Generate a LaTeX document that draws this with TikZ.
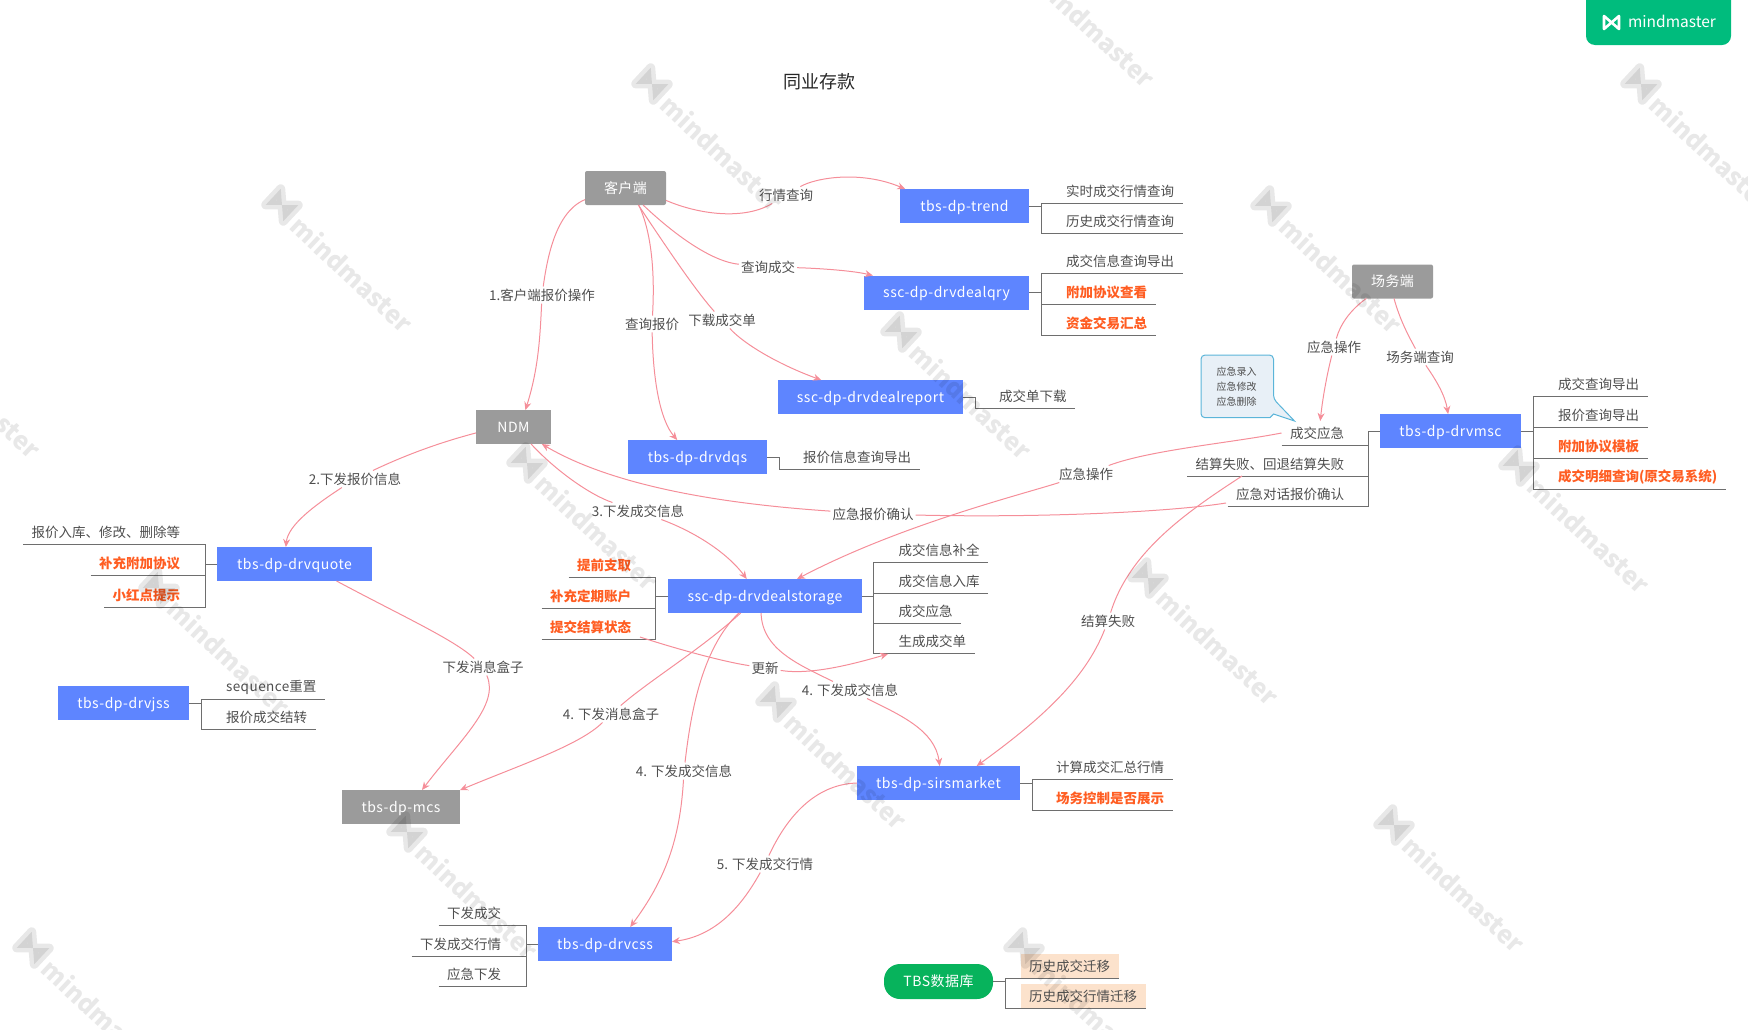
\documentclass[tikz,border=0pt]{standalone}
\usepackage{fontspec}
\usetikzlibrary{arrows.meta}
\setmainfont{Noto Sans CJK SC}
\newfontfamily\spaced[LetterSpace=3.5]{Noto Sans CJK SC}
\definecolor{boxblue}{HTML}{5E85FF}
\definecolor{boxgrey}{HTML}{9B9B9B}
\definecolor{dbgreen}{HTML}{07B35C}
\definecolor{badgegreen}{HTML}{00BC7D}
\definecolor{flowpink}{HTML}{F58E99}
\definecolor{hotorange}{HTML}{FF5D22}
\definecolor{peach}{HTML}{FCE2CC}
\definecolor{stemgrey}{HTML}{6E6E6E}
\definecolor{inkgrey}{HTML}{4E4E4E}
\definecolor{notefill}{HTML}{E8F0F7}
\definecolor{noteline}{HTML}{5BB5D9}

\begin{document}
\begin{tikzpicture}[x=1pt,y=-1pt,>={Stealth[length=8pt,width=7pt]},
                    font=\fontsize{13.5}{16}\selectfont,text=inkgrey]

  \tikzset{
    box/.style={minimum height=34pt,inner sep=0pt,outer sep=0pt,text=white,
                text height=11pt,text depth=1pt,font=\fontsize{14}{16}\spaced},
    bluebox/.style={box,fill=boxblue},
    greybox/.style={box,fill=boxgrey},
    roundgrey/.style={greybox,rounded corners=2pt},
    itemr/.style={anchor=south west,minimum height=24pt,inner xsep=8.5pt,inner ysep=0pt,outer sep=0pt},
    iteml/.style={itemr,anchor=south east},
    hot/.style={text=hotorange,font=\fontsize{13.5}{16}\selectfont\bfseries},
    tag/.style={inner sep=2pt},
    flow/.style={draw=flowpink,line width=1pt,->},
    stem/.style={draw=stemgrey,line width=0.9pt},
  }
  \useasboundingbox (0,0) rectangle (1748,1029);

  \node[font=\fontsize{18}{20}\selectfont,text=black!85] (title) at (819,82) {同业存款};

  % main boxes
  \node[roundgrey,minimum width=81pt] (client) at (625.5,188)   {客户端};
  \node[greybox,minimum width=75pt]   (ndm)    at (513.5,427)   {NDM};
  \node[roundgrey,minimum width=81pt] (desk)   at (1392.5,281.5) {场务端};
  \node[greybox,minimum width=118pt]  (mcs)    at (401,807)     {tbs-dp-mcs};
  \node[bluebox,minimum width=129pt]  (trend)  at (964.5,206)   {tbs-dp-trend};
  \node[bluebox,minimum width=165pt]  (qry)    at (946.5,292.5) {ssc-dp-drvdealqry};
  \node[bluebox,minimum width=185pt]  (report) at (870.5,397)   {ssc-dp-drvdealreport};
  \node[bluebox,minimum width=139pt]  (dqs)    at (697.5,457)   {tbs-dp-drvdqs};
  \node[bluebox,minimum width=141pt]  (msc)    at (1450.5,431)  {tbs-dp-drvmsc};
  \node[bluebox,minimum width=155pt]  (quote)  at (294.5,564)   {tbs-dp-drvquote};
  \node[bluebox,minimum width=194pt]  (store)  at (765,596)     {ssc-dp-drvdealstorage};
  \node[bluebox,minimum width=131pt]  (jss)    at (123.5,703)   {tbs-dp-drvjss};
  \node[bluebox,minimum width=134pt]  (css)    at (605,944)     {tbs-dp-drvcss};
  \node[bluebox,minimum width=163pt]  (sirs)   at (938.5,783)   {tbs-dp-sirsmarket};
  \node[box,fill=dbgreen,rounded corners=16pt,minimum width=109pt,minimum height=35pt] (tbsdb) at (938.5,981.5) {TBS数据库};

  % lists
  \node[itemr] (trendA) at (1057.5,203) {实时成交行情查询};
  \node[itemr] (trendB) at (1057.5,233.5) {历史成交行情查询};
  \node[itemr] (qryA) at (1057.5,273) {成交信息查询导出};
  \node[itemr,hot] (qryB) at (1057.5,304) {附加协议查看};
  \node[itemr,hot] (qryC) at (1057.5,335) {资金交易汇总};
  \node[itemr] (reportA) at (990.5,408) {成交单下载};
  \node[itemr] (dqsA) at (794.5,469) {报价信息查询导出};
  \node[itemr] (mscA) at (1549.5,396) {成交查询导出};
  \node[itemr] (mscB) at (1549.5,427) {报价查询导出};
  \node[itemr,hot] (mscC) at (1549.5,458) {附加协议模板};
  \node[itemr,hot] (mscD) at (1549.5,489) {成交明细查询(原交易系统)};
  \node[iteml] (emgA) at (1352.5,445) {成交应急};
  \node[iteml] (emgB) at (1352.5,476) {结算失败、回退结算失败};
  \node[iteml] (emgC) at (1352.5,506) {应急对话报价确认};
  \node[iteml] (quoteA) at (188.5,544) {报价入库、修改、删除等};
  \node[iteml,hot] (quoteB) at (188.5,575) {补充附加协议};
  \node[iteml,hot] (quoteC) at (188.5,607) {小红点提示};
  \node[iteml,hot] (storeA) at (639.5,577) {提前支取};
  \node[iteml,hot] (storeB) at (639.5,608) {补充定期账户};
  \node[iteml,hot] (storeC) at (639.5,639) {提交结算状态};
  \node[itemr] (storeD) at (890,562) {成交信息补全};
  \node[itemr] (storeE) at (890,593) {成交信息入库};
  \node[itemr] (storeF) at (890,623) {成交应急};
  \node[itemr] (storeG) at (890,653) {生成成交单};
  \node[itemr] (jssA) at (217.5,699) {{\spaced sequence}重置};
  \node[itemr] (jssB) at (217.5,729) {报价成交结转};
  \node[iteml] (cssA) at (509.5,925) {下发成交};
  \node[iteml] (cssB) at (509.5,956) {下发成交行情};
  \node[iteml] (cssC) at (509.5,986) {应急下发};
  \node[itemr] (sirsA) at (1047.5,779) {计算成交汇总行情};
  \node[itemr,hot] (sirsB) at (1047.5,810) {场务控制是否展示};
  \node[itemr,fill=peach] (tbsA) at (1020.5,978) {历史成交迁移};
  \node[itemr,fill=peach] (tbsB) at (1020.5,1008) {历史成交行情迁移};

  % list brackets
  \draw[stem] (trend.east) -- ++(12,0) coordinate (trendS);
  \foreach \i in {trendA,trendB} \draw[stem] (\i.south east) -| (trendS);
  \draw[stem] (qry.east) -- ++(12,0) coordinate (qryS);
  \foreach \i in {qryA,qryB,qryC} \draw[stem] (\i.south east) -| (qryS);
  \draw[stem] (report.east) -- ++(12,0) coordinate (reportS);
  \draw[stem] (reportA.south east) -| (reportS);
  \draw[stem] (dqs.east) -- ++(12,0) coordinate (dqsS);
  \draw[stem] (dqsA.south east) -| (dqsS);
  \draw[stem] (msc.east) -- ++(12,0) coordinate (mscS);
  \foreach \i in {mscA,mscB,mscC,mscD} \draw[stem] (\i.south east) -| (mscS);
  \draw[stem] (msc.west) -- ++(-12,0) coordinate (emgS);
  \foreach \i in {emgA,emgB,emgC} \draw[stem] (\i.south west) -| (emgS);
  \draw[stem] (quote.west) -- ++(-12,0) coordinate (quoteS);
  \foreach \i in {quoteA,quoteB,quoteC} \draw[stem] (\i.south west) -| (quoteS);
  \draw[stem] (store.west) -- ++(-13,0) coordinate (storeL);
  \foreach \i in {storeA,storeB,storeC} \draw[stem] (\i.south west) -| (storeL);
  \draw[stem] (store.east) -- ++(11,0) coordinate (storeR);
  \foreach \i in {storeD,storeE,storeF,storeG} \draw[stem] (\i.south east) -| (storeR);
  \draw[stem] (jss.east) -- ++(12,0) coordinate (jssS);
  \foreach \i in {jssA,jssB} \draw[stem] (\i.south east) -| (jssS);
  \draw[stem] (css.west) -- ++(-12,0) coordinate (cssS);
  \foreach \i in {cssA,cssB,cssC} \draw[stem] (\i.south west) -| (cssS);
  \draw[stem] (sirs.east) -- ++(12,0) coordinate (sirsS);
  \foreach \i in {sirsA,sirsB} \draw[stem] (\i.south east) -| (sirsS);
  \draw[stem] (tbsdb.east) -- ++(12,0) coordinate (tbsS);
  \foreach \i in {tbsA,tbsB} \draw[stem] (\i.south east) -| (tbsS);

  % labels on the flows
  \node[tag] (tagNdm)    at (542,295)  {1.客户端报价操作};
  \node[tag] (tagMarket) at (786,195)  {行情查询};
  \node[tag] (tagDeal)   at (768,267)  {查询成交};
  \node[tag] (tagDown)   at (722,320)  {下载成交单};
  \node[tag] (tagQuote)  at (652,324)  {查询报价};
  \node[tag] (tagTwo)    at (355,479)  {2.下发报价信息};
  \node[tag] (tagThree)  at (638,511)  {3.下发成交信息};
  \node[tag] (tagConf)   at (873,514)  {应急报价确认};
  \node[tag] (tagEmg)    at (1086,474) {应急操作};
  \node[tag] (tagFail)   at (1108,621) {结算失败};
  \node[tag] (tagBox)    at (483,667)  {下发消息盒子};
  \node[tag] (tagBoxF)   at (611,714)  {4. 下发消息盒子};
  \node[tag] (tagInfoL)  at (684,771)  {4. 下发成交信息};
  \node[tag] (tagInfoR)  at (850,690)  {4. 下发成交信息};
  \node[tag] (tagUpd)    at (765,668)  {更新};
  \node[tag] (tagFive)   at (765,864)  {5. 下发成交行情};
  \node[tag] (tagDesk)   at (1334,347) {应急操作};
  \node[tag] (tagDeskQ)  at (1420,357) {场务端查询};

  \coordinate (failEnd) at (1242,476);
  \coordinate (confEnd) at (1226,503);
  \coordinate (updEnd)  at (640,637);
  \coordinate (updTip)  at (888,654);

  % flows
  \draw[flow] (client.196) .. controls (555,212) and (547,260) .. (tagNdm)
              .. controls (540,340) and (538,370) .. (ndm.55);
  \draw[flow] (client.-17) .. controls (700,215) and (745,220) .. (tagMarket)
              .. controls (815,178) and (860,170) .. (trend.164);
  \draw[flow] (client.-44) .. controls (680,240) and (715,262) .. (tagDeal)
              .. controls (810,268) and (850,270) .. (qry.167);
  \draw[flow] (client.-53) .. controls (665,245) and (695,290) .. (tagDown)
              .. controls (745,345) and (780,365) .. (report.161);
  \draw[flow] (client.-52) .. controls (655,240) and (654,290) .. (tagQuote)
              .. controls (653,380) and (660,420) .. (dqs.140);
  \draw[flow] (ndm.189) .. controls (430,445) and (395,460) .. (tagTwo)
              .. controls (315,505) and (288,525) .. (quote.117);
  \draw[flow] (ndm.-44) .. controls (555,470) and (590,495) .. (tagThree)
              .. controls (690,530) and (725,550) .. (store.137);
  \draw[flow] (confEnd) .. controls (1170,512) and (1040,518) .. (tagConf)
              .. controls (740,505) and (620,490) .. (ndm.-31);
  \draw[flow] (emgA.west) .. controls (1230,443) and (1150,450) .. (tagEmg)
              .. controls (1020,495) and (900,525) .. (store.28);
  \draw[flow] (failEnd) .. controls (1190,510) and (1130,550) .. (tagFail)
              .. controls (1085,680) and (1040,720) .. (sirs.24);
  \draw[flow] (quote.-22) .. controls (400,615) and (455,640) .. (tagBox)
              .. controls (500,705) and (460,740) .. (mcs.39);
  \draw[flow] (store.-145) .. controls (700,650) and (650,680) .. (tagBoxF)
              .. controls (580,745) and (520,765) .. (mcs.16);
  \draw[flow] (store.-147) .. controls (700,650) and (690,720) .. (tagInfoL)
              .. controls (680,840) and (665,880) .. (css.34);
  \draw[flow] (store.-103) .. controls (762,650) and (800,665) .. (tagInfoR)
              .. controls (900,715) and (935,730) .. (sirs.86);
  \draw[flow] (updEnd) .. controls (680,650) and (725,662) .. (tagUpd)
              .. controls (810,675) and (850,665) .. (updTip);
  \draw[flow] (sirs.180) .. controls (820,784) and (790,810) .. (tagFive)
              .. controls (745,900) and (720,935) .. (css.2);
  \draw[flow] (desk.-147) .. controls (1350,310) and (1340,325) .. (tagDesk)
              .. controls (1328,370) and (1323,395) .. (emgA.75);
  \draw[flow] (desk.-85) .. controls (1400,320) and (1408,335) .. (tagDeskQ)
              .. controls (1436,380) and (1445,395) .. (msc.98);

  % note
  \draw[draw=noteline,fill=notefill,line width=1pt,rounded corners=4pt]
    (1201,355) -- (1273.5,355) -- (1273.5,399) [sharp corners] -- (1294.5,421)
    -- (1273.5,414) -- (1270,417.7) [rounded corners=4pt] -- (1201,417.7) -- cycle;
  \node[font=\fontsize{10}{15}\selectfont,align=center] (note) at (1236.5,387) {应急录入\\应急修改\\应急删除};

  % badge
  \fill[badgegreen] (1586,0) [rounded corners=9pt] -- (1586,45) -- (1731,45) [sharp corners] -- (1731,0) -- cycle;
  \draw[white,line width=2.6pt,line join=round] (1604,16) -- (1604,29) -- (1619,16) -- (1619,29) -- cycle;
  \node[text=white,font=\fontsize{15.5}{20}\selectfont,inner sep=0pt] (brand) at (1672,21) {mindmaster};

  % watermark
  \begin{scope}[opacity=0.09]
    \clip (0,0) rectangle (1748,1029);
    \foreach \wx/\wy in {652/84,282/205,1271/206,1641/84,901/332,527/463,1148/578,776/702,
                         1519/466,159/588,1394/825,407/832,1024/948,33/948,1024/-40,-90/331}{
      \draw[black,fill=black,line width=9pt,line join=round,rotate around={-43:(\wx,\wy)}]
        (\wx-12,\wy-11) -- (\wx-12,\wy+11) -- (\wx+12,\wy-11) -- (\wx+12,\wy+11) -- cycle;
      \node[text=black,font=\fontsize{25}{28}\selectfont\bfseries,rotate=-43,inner sep=0pt]
        (mark\wx) at (\wx+70,\wy+69) {mindmaster};
    }
  \end{scope}
\end{tikzpicture}
\end{document}
